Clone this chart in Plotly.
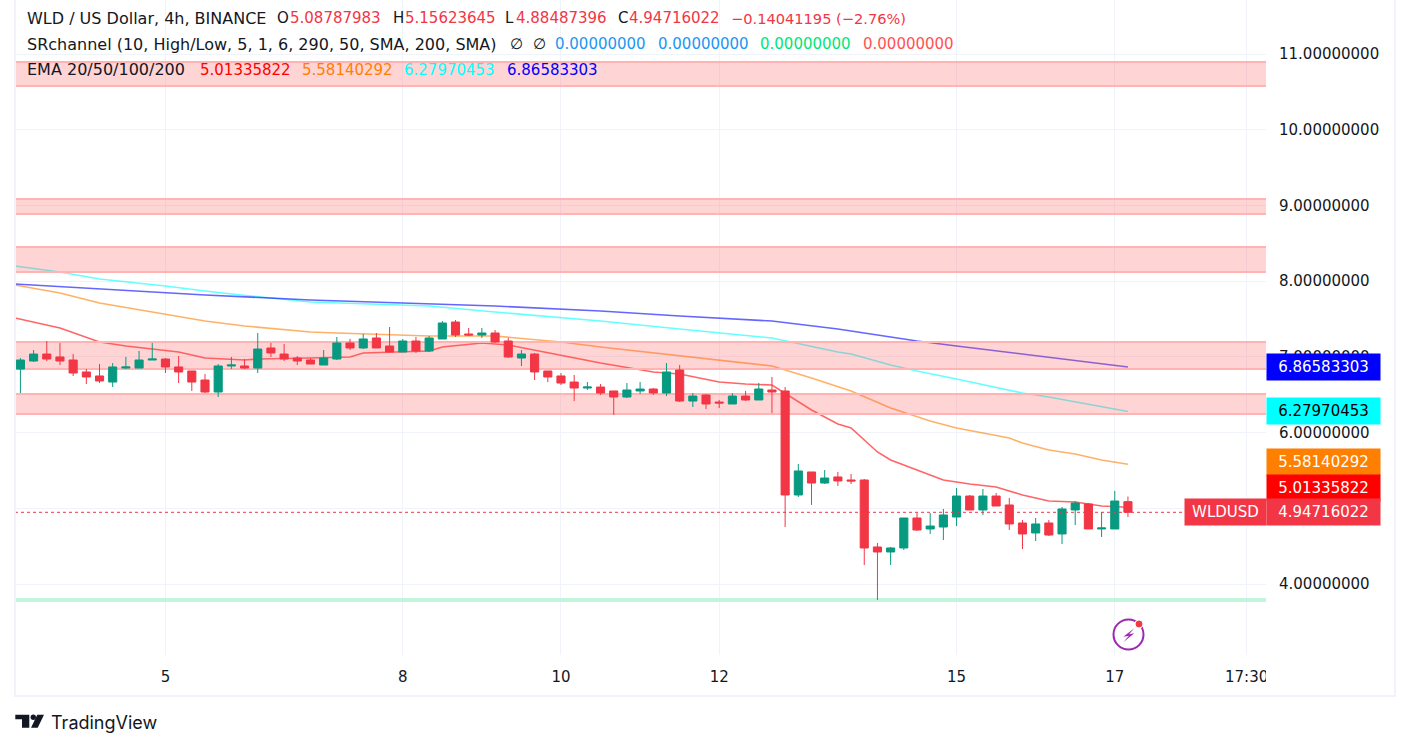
import plotly.graph_objects as go

# candles, oldest first
opens = [6.840,6.946,7.038,6.999,6.959,6.801,6.748,6.668,6.853,6.853,6.959,6.972,6.867,6.814,6.695,6.536,6.880,6.880,6.853,7.118,7.038,6.985,6.959,6.893,6.972,7.184,7.118,7.250,7.144,7.065,7.210,7.078,7.237,7.461,7.303,7.289,7.316,7.210,6.985,7.038,6.814,6.748,6.668,6.589,6.602,6.550,6.470,6.550,6.576,6.523,6.827,6.417,6.497,6.404,6.378,6.483,6.431,6.563,6.550,5.176,5.480,5.334,5.414,5.374,5.374,4.489,4.423,4.476,4.872,4.727,4.753,4.885,5.162,4.978,5.162,5.044,4.806,4.674,4.806,4.661,4.978,5.057,4.727,4.727,5.08787983]
highs = [6.985,7.091,7.210,7.184,7.038,6.840,6.906,6.919,6.999,7.078,7.184,6.985,7.012,6.814,6.774,6.906,6.999,6.972,7.316,7.184,7.170,7.012,6.985,7.091,7.263,7.237,7.303,7.316,7.395,7.237,7.263,7.276,7.474,7.487,7.382,7.382,7.355,7.250,7.091,7.052,6.814,6.787,6.761,6.668,6.642,6.550,6.655,6.668,6.589,6.919,6.893,6.523,6.510,6.431,6.523,6.550,6.655,6.735,6.602,5.585,5.480,5.506,5.480,5.453,5.387,4.542,4.489,4.872,4.938,4.938,4.991,5.268,5.176,5.255,5.202,5.136,4.845,4.872,4.845,5.017,5.096,5.070,4.951,5.229,5.15623645]
lows = [6.523,6.933,6.946,6.893,6.748,6.642,6.655,6.602,6.840,6.853,6.959,6.787,6.655,6.550,6.523,6.470,6.840,6.840,6.787,6.999,6.946,6.893,6.906,6.893,6.959,7.091,7.104,7.118,7.065,7.065,7.052,7.065,7.237,7.263,7.276,7.250,7.184,6.985,6.880,6.695,6.668,6.629,6.417,6.563,6.497,6.233,6.457,6.510,6.497,6.483,6.404,6.338,6.312,6.325,6.378,6.417,6.431,6.259,4.753,5.149,5.044,5.321,5.295,5.321,4.251,3.789,4.251,4.449,4.700,4.661,4.581,4.766,4.978,4.912,5.030,4.713,4.462,4.568,4.634,4.528,4.779,4.727,4.621,4.727,4.88487396]
closes = [6.959,7.038,6.972,6.946,6.787,6.735,6.682,6.867,6.867,6.959,6.972,6.867,6.801,6.668,6.536,6.880,6.893,6.853,7.104,7.052,6.972,6.946,6.906,6.985,7.184,7.118,7.237,7.118,7.065,7.210,7.078,7.250,7.448,7.289,7.289,7.316,7.197,6.999,7.038,6.801,6.735,6.655,6.589,6.602,6.523,6.470,6.563,6.576,6.523,6.801,6.417,6.483,6.378,6.391,6.483,6.431,6.576,6.536,5.176,5.493,5.334,5.400,5.361,5.361,4.476,4.423,4.476,4.872,4.713,4.766,4.912,5.162,4.978,5.162,5.030,4.793,4.661,4.793,4.647,4.991,5.070,4.727,4.740,5.096,4.94716022]

# EMAs
ema20_idx = [-0.41,3,6,8,12,14,17,18,22,25,26,29,31,32,35,37,39,44,48,50,53,55,57,60,62,63,65,66,69,70,72,74,76,78,80,82,84]
ema20 = [7.514,7.382,7.197,7.144,7.065,6.985,6.959,6.972,6.985,6.999,7.052,7.065,7.078,7.131,7.184,7.157,7.091,6.919,6.801,6.774,6.668,6.642,6.629,6.299,6.114,6.061,5.744,5.638,5.440,5.374,5.321,5.281,5.176,5.096,5.083,5.030,5.01335822]
ema50_idx = [-0.41,3,6,11,14,17,22,24,31,36,41,44,49,53,57,60,62,63,66,69,71,75,76,78,80,82,84]
ema50 = [7.950,7.844,7.712,7.567,7.474,7.408,7.329,7.316,7.276,7.276,7.197,7.131,7.038,6.959,6.880,6.721,6.602,6.550,6.325,6.153,6.061,5.929,5.863,5.770,5.717,5.638,5.58140292]
ema100_idx = [-0.41,3,6,11,14,16,22,24,31,36,44,50,57,62,63,66,68,71,74,76,78,80,82,84]
ema100 = [8.201,8.122,8.029,7.937,7.871,7.831,7.725,7.712,7.672,7.593,7.474,7.369,7.250,7.065,7.038,6.893,6.814,6.708,6.602,6.523,6.470,6.404,6.338,6.27970453]
ema200_idx = [-0.41,5,11,14,22,29,36,44,50,57,62,66,68,71,78,84]
ema200 = [7.963,7.910,7.857,7.818,7.752,7.712,7.672,7.606,7.540,7.474,7.369,7.263,7.210,7.144,6.999,6.86583303]

# SR zones (top, bottom)
zone_tops = [10.896,9.086,8.452,7.197,6.510]
zone_bottoms = [10.578,8.888,8.121,6.840,6.246]
support_top = 3.815
support_bottom = 3.762

price_ticks = [4,5,6,7,8,9,10,11]
price_labels = ["%.8f" % p for p in price_ticks]
time_ticks = [11,29,41,53,71,83,93]
time_labels = ["5","8","10","12","15","17","17:30"]

last_close = 4.94716022
# axis badges: text, centre price, background, text colour
badge_text = ["6.86583303","6.27970453","5.58140292","5.01335822","4.94716022"]
badge_pos = [6.866,6.280,5.618,5.268,4.947]
badge_bg = ["#0000ff","#00ffff","#ff7f00","#ff0000","#f23645"]
badge_fg = ["#ffffff","#000000","#ffffff","#ffffff","#ffffff"]

PL, PR, PB = 15, 1266, 655
FONT = "DejaVu Sans"
INK = "#131722"
GRID = "#f0f3fa"
X_RANGE = [-0.41, 94.47]
Y_RANGE = [3.062, 11.715]

def px(x):
    return (x-PL)/(PR-PL)
def py(y):
    return (PB-y)/PB

fig = go.Figure()

# EMAs go under the zones, the candles sit on a second overlaid pair of axes so they stay on top
for idx, vals, col in [(ema20_idx, ema20, "#ff0000"), (ema50_idx, ema50, "#ff7f00"),
                       (ema100_idx, ema100, "#00ffff"), (ema200_idx, ema200, "#0000ff")]:
    fig.add_trace(go.Scatter(x=idx, y=vals, mode="lines", line=dict(color=col, width=1.6),
                             opacity=0.6, showlegend=False, hoverinfo="skip"))

zone_l, zone_r = -3, 98
for t, b in zip(zone_tops, zone_bottoms):
    fig.add_trace(go.Scatter(x=[zone_l,zone_r,zone_r,zone_l,zone_l], y=[b,b,t,t,b], mode="lines", fill="toself",
                             fillcolor="rgba(255,82,82,0.25)", line=dict(color="#ffb3b3", width=2),
                             showlegend=False, hoverinfo="skip"))
fig.add_trace(go.Scatter(x=[zone_l,zone_r,zone_r,zone_l,zone_l],
                         y=[support_bottom,support_bottom,support_top,support_top,support_bottom],
                         mode="lines", fill="toself", fillcolor="#c1f5de", line=dict(width=0),
                         showlegend=False, hoverinfo="skip"))

fig.add_trace(go.Candlestick(
    x=list(range(len(opens))), open=opens, high=highs, low=lows, close=closes, xaxis="x2", yaxis="y2",
    increasing=dict(line=dict(color="#089981", width=1), fillcolor="#089981"),
    decreasing=dict(line=dict(color="#f23645", width=1), fillcolor="#f23645"),
    whiskerwidth=0, showlegend=False, hoverinfo="skip"))

shapes = []
shapes.append(dict(type="line", xref="paper", yref="y", x0=0, x1=1, y0=last_close, y1=last_close,
                   line=dict(color="#f23645", width=1, dash="dot")))

# frame round the widget
shapes.append(dict(type="rect", xref="paper", yref="paper", x0=px(15), x1=px(1395), y0=py(696), y1=py(-4),
                   layer="above", line=dict(color=GRID, width=2)))
# cuts the last time label at the edge of the pane
shapes.append(dict(type="rect", xref="paper", yref="paper", x0=px(1266), x1=px(1300), y0=py(690), y1=py(660),
                   layer="above", fillcolor="white", line=dict(width=0)))

# bolt icon
shapes.append(dict(type="circle", xref="paper", yref="paper", x0=px(1113.5), x1=px(1143.5), y0=py(649.5), y1=py(619.5),
                   layer="above", line=dict(color="#9c27b0", width=2)))
bolt = [(1134.3,628.3),(1123.3,636.7),(1129,635.7),(1123.3,642.3),(1134.3,633.3),(1129,634.3)]
shapes.append(dict(type="path", xref="paper", yref="paper", layer="above", fillcolor="#9c27b0", line=dict(width=0),
                   path="M " + " L ".join("%f %f" % (px(a), py(b)) for a, b in bolt) + " Z"))
shapes.append(dict(type="circle", xref="paper", yref="paper", x0=px(1135), x1=px(1143), y0=py(628), y1=py(620),
                   layer="above", fillcolor="#f23645", line=dict(color="white", width=1)))

# TradingView mark
logo_t = [(15.3,714.7),(29.3,714.7),(29.3,727.7),(22,727.7),(22,719.3),(15.3,719.3)]
logo_s = [(37.3,714.7),(44,714.7),(37.7,727.7),(31,727.7)]
for poly in (logo_t, logo_s):
    shapes.append(dict(type="path", xref="paper", yref="paper", layer="above", fillcolor=INK, line=dict(width=0),
                       path="M " + " L ".join("%f %f" % (px(a), py(b)) for a, b in poly) + " Z"))
shapes.append(dict(type="circle", xref="paper", yref="paper", x0=px(30.6), x1=px(36), y0=py(720), y1=py(714.6),
                   layer="above", fillcolor=INK, line=dict(width=0)))

RED = "#f23645"
legend_bits = [
    ("WLD / US Dollar, 4h, BINANCE", 26, 18, INK, 16),
    ("O", 276, 18, INK, 15), ("5.08787983", 289, 18, RED, 15),
    ("H", 392, 18, INK, 15), ("5.15623645", 404, 18, RED, 15),
    ("L", 504, 18, INK, 15), ("4.88487396", 515, 18, RED, 15),
    ("C", 617, 18, INK, 15), ("4.94716022", 628, 18, RED, 15),
    ("\u22120.14041195 (\u22122.76%)", 730, 18, RED, 14.6),
    ("SRchannel (10, High/Low, 5, 1, 6, 290, 50, SMA, 200, SMA)", 26, 44, INK, 16),
    ("\u2205", 509, 44, INK, 15), ("\u2205", 532, 44, INK, 15),
    ("0.00000000", 554, 44, "#2196f3", 15), ("0.00000000", 657, 44, "#2196f3", 15),
    ("0.00000000", 759, 44, "#00e676", 15), ("0.00000000", 862, 44, "#ff5252", 15),
    ("EMA 20/50/100/200", 26, 70, INK, 16),
    ("5.01335822", 199, 70, "#ff0000", 15), ("5.58140292", 301, 70, "#ff7f00", 15),
    ("6.27970453", 403, 70, "#00ffff", 15), ("6.86583303", 506, 70, "#0000ff", 15),
]
annotations = []
for txt, x, y, col, size in legend_bits:
    annotations.append(dict(text=txt, xref="paper", yref="paper", x=px(x), y=py(y), xanchor="left", yanchor="middle",
                            showarrow=False, borderpad=0, font=dict(family=FONT, size=size, color=col)))

for txt, pos, bg, fg in zip(badge_text, badge_pos, badge_bg, badge_fg):
    annotations.append(dict(text=txt, xref="paper", yref="y", x=px(1266), y=pos, xanchor="left", yanchor="middle",
                            showarrow=False, width=113, height=26, align="center", bgcolor=bg, borderpad=0,
                            font=dict(family=FONT, size=15, color=fg)))
annotations.append(dict(text="WLDUSD", xref="paper", yref="y", x=px(1184), y=last_close, xanchor="left", yanchor="middle",
                        showarrow=False, width=81, height=26, align="center", bgcolor="#f23645", borderpad=0,
                        font=dict(family=FONT, size=15, color="white")))
annotations.append(dict(text="TradingView", xref="paper", yref="paper", x=px(49), y=py(722), xanchor="left", yanchor="middle",
                        showarrow=False, font=dict(family="Inter", size=18, color=INK)))

fig.update_layout(
    width=1410, height=749,
    margin=dict(l=PL, r=1410-PR, t=0, b=749-PB, pad=0),
    paper_bgcolor="white", plot_bgcolor="white",
    font=dict(family=FONT, size=15, color=INK),
    boxgap=0.12,
    shapes=shapes, annotations=annotations,
    xaxis=dict(range=X_RANGE, tickmode="array", tickvals=time_ticks,
               ticktext=time_labels, showgrid=True, gridcolor=GRID, gridwidth=1, zeroline=False, showline=False,
               ticks="", ticklabelstandoff=11, tickangle=0, tickfont=dict(family=FONT, size=15, color=INK)),
    yaxis=dict(range=Y_RANGE, side="right", tickmode="array", tickvals=price_ticks, ticktext=price_labels,
               showgrid=True, gridcolor=GRID, gridwidth=1, zeroline=False, showline=False, ticks="",
               ticklabelstandoff=12, tickfont=dict(family=FONT, size=15, color=INK)),
    xaxis2=dict(range=X_RANGE, overlaying="x", visible=False, rangeslider=dict(visible=False)),
    yaxis2=dict(range=Y_RANGE, overlaying="y", side="right", visible=False),
)

fig.write_html("out.html", config=dict(displayModeBar=False),
               post_script="document.body.style.margin='0';document.body.style.overflow='hidden';")
